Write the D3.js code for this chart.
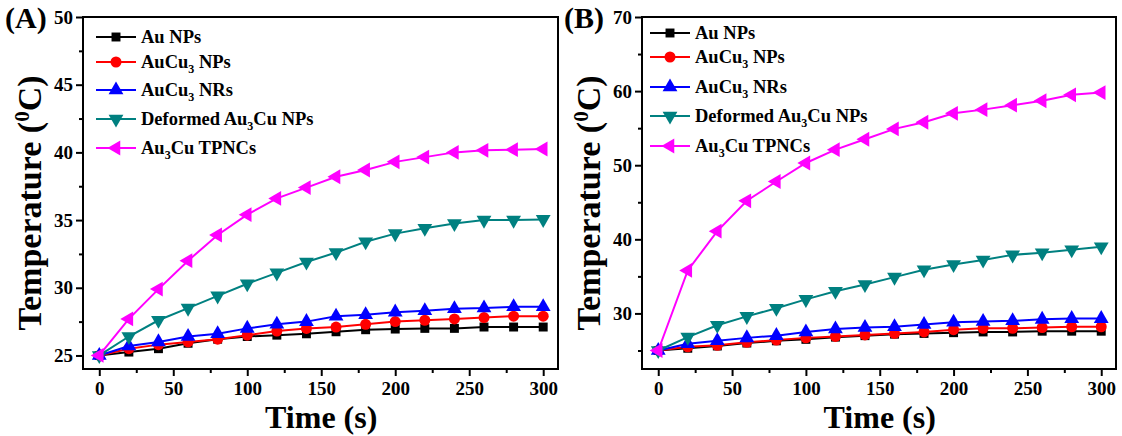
<!DOCTYPE html>
<html><head><meta charset="utf-8">
<script src="https://cdn.jsdelivr.net/npm/d3@7"></script>
<style>
html,body{margin:0;padding:0;background:#fff;}
svg text{font-family:"Liberation Serif","Times New Roman",serif;font-weight:bold;fill:#000;}
</style></head>
<body><svg id="chart" width="1122" height="436"></svg>
<script>
// ---- data ----
const times = [0,20,40,60,80,100,120,140,160,180,200,220,240,260,280,300];
const xTicks = [0,50,100,150,200,250,300];
const yTicksA = [25,30,35,40,45,50];
const yTicksB = [30,40,50,60,70];
const panelLabels = ["(A)","(B)"];

// Panel A
const A_AuNPs      = [25,25.25,25.5,25.9,26.2,26.4,26.5,26.6,26.75,26.9,26.95,27.0,27.0,27.1,27.1,27.1];
const A_AuCu3NPs   = [25,25.5,25.8,26.0,26.2,26.5,26.8,27.0,27.1,27.3,27.5,27.6,27.7,27.8,27.9,27.9];
const A_AuCu3NRs   = [25,25.7,26.0,26.4,26.6,27.0,27.3,27.5,27.9,28.0,28.2,28.3,28.45,28.5,28.6,28.6];
const A_Deformed   = [25,26.4,27.6,28.5,29.4,30.3,31.1,31.9,32.6,33.4,34.0,34.4,34.75,35.0,35.0,35.05];
const A_TPNCs      = [25,27.7,29.9,32.0,33.9,35.4,36.6,37.4,38.2,38.7,39.3,39.65,40.0,40.15,40.2,40.25];

// Panel B
const B_AuNPs      = [25,25.3,25.6,26.0,26.3,26.5,26.8,27.0,27.2,27.3,27.4,27.5,27.5,27.6,27.6,27.6];
const B_AuCu3NPs   = [25,25.5,25.7,26.1,26.4,26.7,26.9,27.1,27.3,27.5,27.8,28.0,28.0,28.1,28.2,28.2];
const B_AuCu3NRs   = [25,25.9,26.3,26.7,27.0,27.5,27.9,28.1,28.2,28.5,28.8,28.9,29.0,29.2,29.3,29.3];
const B_Deformed   = [25,26.8,28.4,29.6,30.7,31.9,33.0,33.9,34.9,35.9,36.6,37.2,37.9,38.2,38.6,39.0];
const B_TPNCs      = [25,35.8,41.1,45.2,47.8,50.3,52.1,53.5,54.9,55.8,57.0,57.5,58.1,58.7,59.5,59.8];

const seriesNames = [
  {base:"Au NPs"},
  {base:"AuCu", sub:"3", rest:" NPs"},
  {base:"AuCu", sub:"3", rest:" NRs"},
  {base:"Deformed Au", sub:"3", rest:"Cu NPs"},
  {base:"Au", sub:"3", rest:"Cu TPNCs"}
];
const colors = ["#000000","#ff0000","#0000ff","#008080","#ff00ff"];
const shapes = ["square","circle","up","down","left"];

// ---- drawing ----
const svg = d3.select("#chart");

const panels = [
  {label:panelLabels[0], left:83, right:558, yDomain:[24,50], yTicks:yTicksA, yMinor:[27.5,32.5,37.5,42.5,47.5],
   series:[A_AuNPs,A_AuCu3NPs,A_AuCu3NRs,A_Deformed,A_TPNCs], legX:96, legY:[37,62,90,119,148]},
  {label:panelLabels[1], left:642, right:1116, yDomain:[22.5,70], yTicks:yTicksB, yMinor:[25,35,45,55,65],
   series:[B_AuNPs,B_AuCu3NPs,B_AuCu3NRs,B_Deformed,B_TPNCs], legX:650, legY:[33,57,87,116,146]}
];
const plotTop = 17, plotBottom = 369;

function symbolPath(shape){
  if(shape==="square") return d3.symbol(d3.symbolSquare, 80)();
  if(shape==="circle") return d3.symbol(d3.symbolCircle, 95)();
  return d3.symbol(d3.symbolTriangle, 95)();
}
function symbolRot(shape){
  if(shape==="down") return 180;
  if(shape==="left") return -90;
  return 0;
}

panels.forEach(p=>{
  const g = svg.append("g");
  const x = d3.scaleLinear().domain([-11,310]).range([p.left,p.right]);
  const y = d3.scaleLinear().domain(p.yDomain).range([plotBottom,plotTop]);

  const xAxis = g.append("g").attr("transform",`translate(0,${plotBottom})`)
    .call(d3.axisBottom(x).tickValues(xTicks).tickSize(7).tickPadding(6).tickFormat(d3.format("d")));
  const xMinor = g.append("g").attr("transform",`translate(0,${plotBottom})`)
    .call(d3.axisBottom(x).tickValues([25,75,125,175,225,275]).tickSize(4).tickFormat(""));
  const yAxis = g.append("g").attr("transform",`translate(${p.left},0)`)
    .call(d3.axisLeft(y).tickValues(p.yTicks).tickSize(7).tickPadding(3).tickFormat(d3.format("d")));
  const yMinor = g.append("g").attr("transform",`translate(${p.left},0)`)
    .call(d3.axisLeft(y).tickValues(p.yMinor).tickSize(4).tickFormat(""));
  [xAxis,xMinor,yAxis,yMinor].forEach(a=>{
    a.select(".domain").remove();
    a.selectAll("line").attr("stroke","#000").attr("stroke-width",2);
    a.selectAll("text").attr("font-size",19).attr("font-family","Liberation Serif").attr("font-weight","bold").attr("fill","#000");
  });

  g.append("rect").attr("x",p.left).attr("y",plotTop).attr("width",p.right-p.left).attr("height",plotBottom-plotTop)
    .attr("fill","none").attr("stroke","#000").attr("stroke-width",2);

  const line = d3.line().x((d,i)=>x(times[i])).y(d=>y(d));
  p.series.forEach((vals,si)=>{
    g.append("path").datum(vals).attr("d",line).attr("fill","none")
      .attr("stroke",colors[si]).attr("stroke-width",2);
    g.selectAll(null).data(vals).enter().append("path")
      .attr("d",symbolPath(shapes[si]))
      .attr("transform",(d,i)=>`translate(${x(times[i])},${y(d)}) rotate(${symbolRot(shapes[si])})`)
      .attr("fill",colors[si]);
  });

  seriesNames.forEach((s,si)=>{
    const ly = p.legY[si];
    g.append("line").attr("x1",p.legX).attr("x2",p.legX+40).attr("y1",ly).attr("y2",ly)
      .attr("stroke",colors[si]).attr("stroke-width",2);
    g.append("path").attr("d",symbolPath(shapes[si]))
      .attr("transform",`translate(${p.legX+20},${ly}) rotate(${symbolRot(shapes[si])})`)
      .attr("fill",colors[si]);
    const t = g.append("text").attr("x",p.legX+45).attr("y",ly+6).attr("font-size",18.5);
    t.append("tspan").text(s.base);
    if(s.sub){
      t.append("tspan").attr("font-size",12).attr("dy",5).text(s.sub);
      t.append("tspan").attr("dy",-5).text(s.rest);
    }
  });

  const cx = (x(0)+x(300))/2;
  g.append("text").attr("x",cx).attr("y",428).attr("text-anchor","middle").attr("font-size",32).text("Time (s)");
  const yt = g.append("text").attr("transform",`translate(${p.left-42},${(plotTop+plotBottom)/2+10}) rotate(-90)`)
    .attr("text-anchor","middle").attr("font-size",34);
  yt.append("tspan").text("Temperature (");
  yt.append("tspan").attr("font-size",21).attr("dy",-12).text("0");
  yt.append("tspan").attr("dy",12).text("C)");

  g.append("text").attr("x",p.left-78).attr("y",28).attr("font-size",30).text(p.label);
});
</script></body></html>
